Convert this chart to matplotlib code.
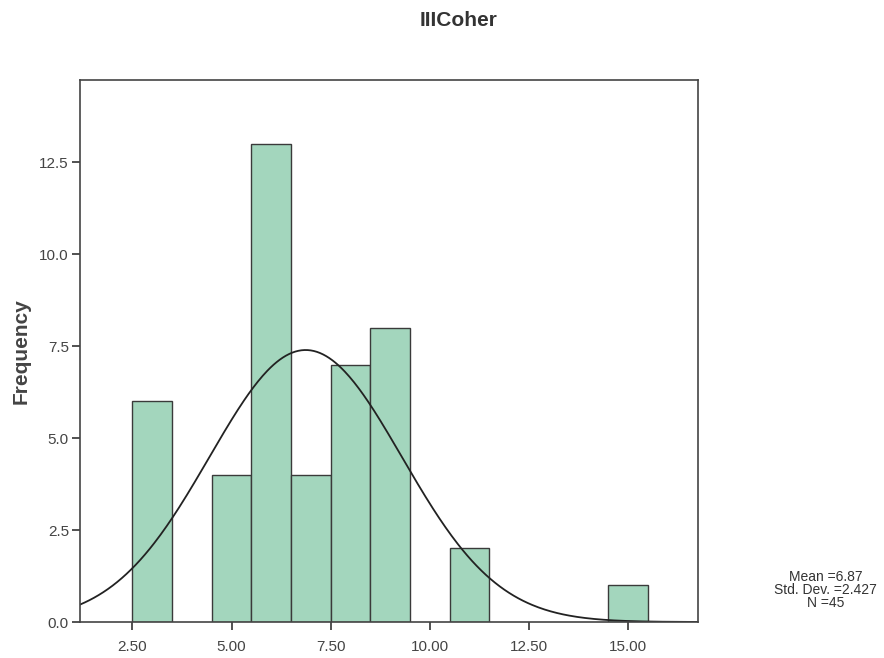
import numpy as np
import matplotlib
matplotlib.use("Agg")
import matplotlib.pyplot as plt

plt.rcParams["font.family"] = ["Liberation Sans", "DejaVu Sans"]

# datos
bin_centers = [3, 5, 6, 7, 8, 9, 11, 15]
counts = [6, 4, 13, 4, 7, 8, 2, 1]
mean = 6.87
std = 2.427
n = 45
x_ticks = [2.5, 5.0, 7.5, 10.0, 12.5, 15.0]
x_tick_labels = ["2.50", "5.00", "7.50", "10.00", "12.50", "15.00"]
y_ticks = [0.0, 2.5, 5.0, 7.5, 10.0, 12.5]
y_tick_labels = ["0.0", "2.5", "5.0", "7.5", "10.0", "12.5"]

fig = plt.figure(figsize=(8.84, 6.58), dpi=100)
ax = fig.add_axes([0.0905, 0.0547, 0.699, 0.8237])

ax.bar(bin_centers, counts, width=1.0, color="#a3d6bd", edgecolor="#3a3a3a", linewidth=1.0)

# curva normal
xs = np.linspace(1.18, 16.76, 400)
ys = n * 1.0 / (std * np.sqrt(2 * np.pi)) * np.exp(-0.5 * ((xs - mean) / std) ** 2)
ax.plot(xs, ys, color="#222222", linewidth=1.3)

ax.set_xlim(1.18, 16.76)
ax.set_ylim(0, 14.74)
ax.set_xticks(x_ticks)
ax.set_xticklabels(x_tick_labels)
ax.set_yticks(y_ticks)
ax.set_yticklabels(y_tick_labels)
ax.tick_params(direction="out", length=6, width=1.2, colors="#333333", labelsize=11, labelcolor="#444444")
ax.tick_params(axis="x", pad=7)
ax.tick_params(axis="y", pad=2)
for s in ax.spines.values():
    s.set_color("#444444")
    s.set_linewidth(1.2)

ax.set_ylabel("Frequency", fontsize=15, fontweight="bold", color="#444444", labelpad=6)
fig.text(0.519, 0.969, "IIICoher", ha="center", va="center", fontsize=15, fontweight="bold", color="#333333")
fig.text(0.934, 0.103, f"Mean ={mean}\nStd. Dev. ={std}\nN ={n}", ha="center", va="center",
         fontsize=10, color="#333333", linespacing=0.9)

plt.savefig("out.png", dpi=100)
